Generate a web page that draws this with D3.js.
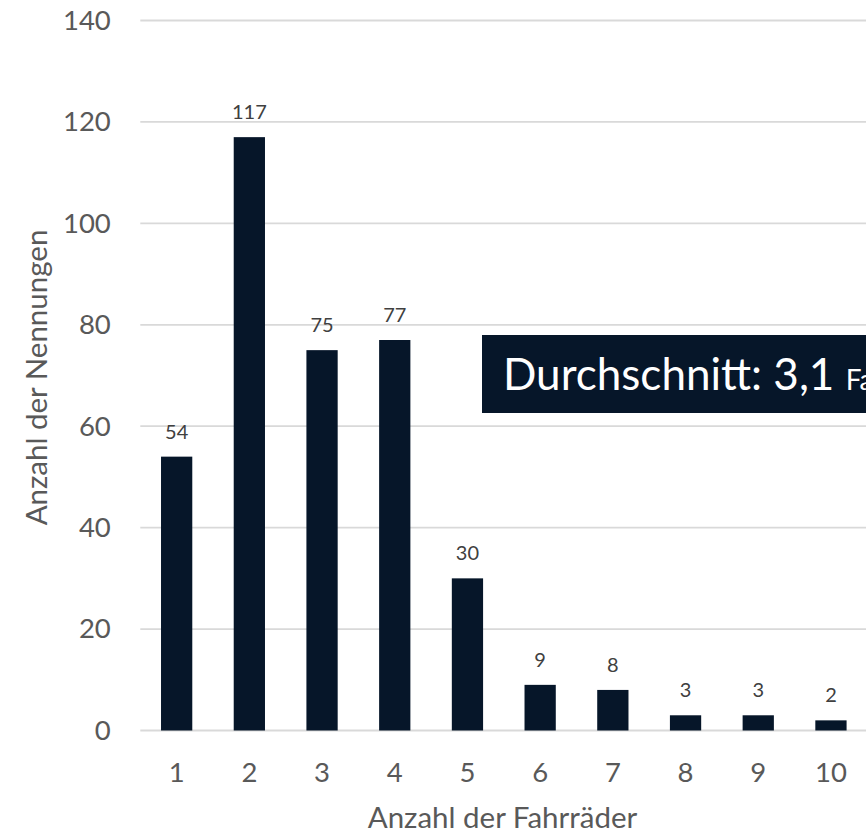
<!DOCTYPE html>
<html>
<head>
<meta charset="utf-8">
<script src="https://cdn.jsdelivr.net/npm/d3@7"></script>
<style>
  html, body { margin: 0; padding: 0; background: #fff; overflow: hidden; }
  svg { display: block; font-family: Lato, "Open Sans", sans-serif; }
</style>
</head>
<body>
<svg id="chart" width="866" height="833"></svg>
<script>
const categories = ["1", "2", "3", "4", "5", "6", "7", "8", "9", "10"];
const values = [54, 117, 75, 77, 30, 9, 8, 3, 3, 2];
const yTicks = [0, 20, 40, 60, 80, 100, 120, 140];
const xTitle = "Anzahl der Fahrräder";
const yTitle = "Anzahl der Nennungen";
const noteMain = "Durchschnitt: 3,1 ";
const noteUnit = "Fahrräder";

(function () {
const svg = d3.select("#chart");
const pLeft = 140.3, pRight = 867.3, pTop = 20.5, pBottom = 730.5;

const x = d3.scaleBand().domain(categories).range([pLeft, pRight]).paddingInner(0.57).paddingOuter(0.285);
const y = d3.scaleLinear().domain([0, 140]).range([pBottom, pTop]);

// gridlines
svg.append("g").selectAll("line").data(yTicks).join("line")
  .attr("x1", pLeft).attr("x2", pRight)
  .attr("y1", d => y(d)).attr("y2", d => y(d))
  .attr("stroke", "#d9d9d9").attr("stroke-width", 1.8);

// y axis labels
const yAxis = svg.append("g").attr("transform", `translate(${pLeft},0)`)
  .call(d3.axisLeft(y).tickValues(yTicks).tickSize(0).tickPadding(29.5));
yAxis.select(".domain").remove();
yAxis.selectAll("text").attr("font-size", 27.5).attr("fill", "#595959").attr("font-family", "Lato, sans-serif");

// bars
svg.append("g").selectAll("rect").data(values).join("rect")
  .attr("x", (d, i) => x(categories[i]))
  .attr("width", x.bandwidth())
  .attr("y", d => y(d))
  .attr("height", d => y(0) - y(d))
  .attr("fill", "#061629");

// data labels
svg.append("g").selectAll("text").data(values).join("text")
  .attr("x", (d, i) => x(categories[i]) + x.bandwidth() / 2)
  .attr("y", d => y(d) - 18)
  .attr("text-anchor", "middle")
  .attr("font-size", 20)
  .attr("fill", "#404040")
  .text(d => d);

// x axis labels
const xAxis = svg.append("g").attr("transform", `translate(0,${pBottom})`)
  .call(d3.axisBottom(x).tickSize(0).tickPadding(32));
xAxis.select(".domain").remove();
xAxis.selectAll("text").attr("font-size", 27.5).attr("fill", "#595959").attr("font-family", "Lato, sans-serif");

// axis titles
svg.append("text").attr("x", 502.5).attr("y", 828).attr("text-anchor", "middle")
  .attr("font-size", 29.5).attr("fill", "#595959").text(xTitle);
svg.append("text").attr("transform", "translate(47,377.5) rotate(-90)").attr("text-anchor", "middle")
  .attr("font-size", 29.5).attr("fill", "#595959").text(yTitle);

// annotation box
svg.append("rect").attr("x", 482).attr("y", 335).attr("width", 420).attr("height", 78).attr("fill", "#061629");
const note = svg.append("text").attr("x", 503).attr("y", 390).attr("fill", "#ffffff").attr("font-size", 44);
note.append("tspan").text(noteMain);
note.append("tspan").attr("font-size", 28).text(noteUnit);
})();
</script>
</body>
</html>
